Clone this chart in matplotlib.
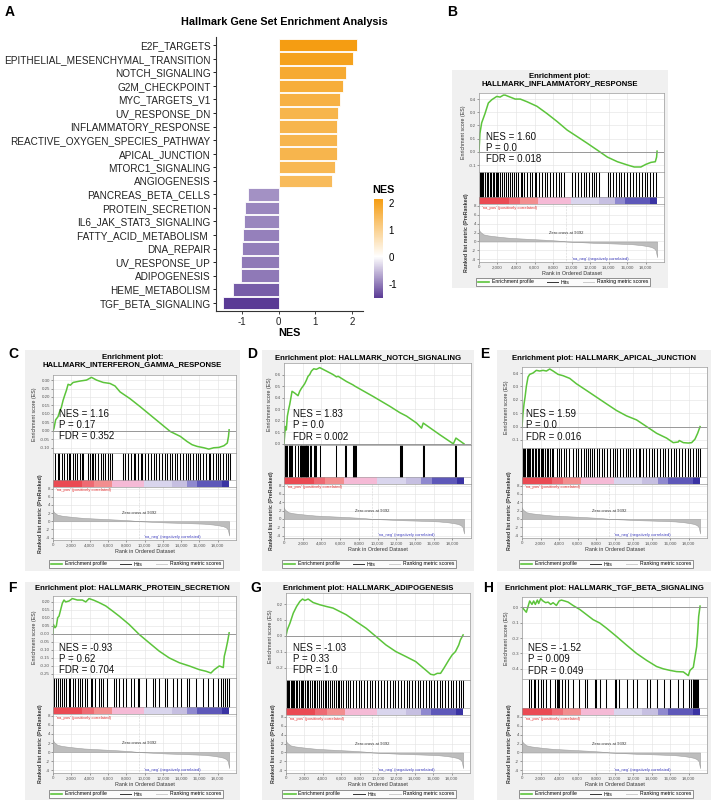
import numpy as np
import matplotlib
matplotlib.use('Agg')
import matplotlib.pyplot as plt
from matplotlib.colors import LinearSegmentedColormap, Normalize
from matplotlib.colorbar import ColorbarBase
from matplotlib.patches import Rectangle
from matplotlib.lines import Line2D
from matplotlib.ticker import FuncFormatter

plt.rcParams['font.family'] = ['Liberation Sans', 'DejaVu Sans']
plt.rcParams['axes.unicode_minus'] = False

W, H = 713, 800

# ---- panel A : NES per hallmark set
pathways = ['E2F_TARGETS', 'EPITHELIAL_MESENCHYMAL_TRANSITION', 'NOTCH_SIGNALING',
            'G2M_CHECKPOINT', 'MYC_TARGETS_V1', 'UV_RESPONSE_DN', 'INFLAMMATORY_RESPONSE',
            'REACTIVE_OXYGEN_SPECIES_PATHWAY', 'APICAL_JUNCTION', 'MTORC1_SIGNALING',
            'ANGIOGENESIS', 'PANCREAS_BETA_CELLS', 'PROTEIN_SECRETION', 'IL6_JAK_STAT3_SIGNALING',
            'FATTY_ACID_METABOLISM ', 'DNA_REPAIR', 'UV_RESPONSE_UP', 'ADIPOGENESIS',
            'HEME_METABOLISM', 'TGF_BETA_SIGNALING']
nes = [2.13, 2.02, 1.83, 1.76, 1.68, 1.61, 1.60, 1.60, 1.59, 1.54, 1.46,
       -0.85, -0.93, -0.94, -0.98, -0.99, -1.03, -1.03, -1.25, -1.52]
nes_ticks = [-1, 0, 1, 2]

# ---- shared ranked list (same dataset in every enrichment plot)
rank_pos = [0, 30, 110, 470, 1000, 1560, 2400, 3370, 5180, 6990, 8500, 9450, 11000,
            12420, 14000, 15310, 16500, 17480, 18100, 18570, 18900, 19110, 19250]
rank_val = [2.8, 2.5, 2.2, 1.6, 1.35, 1.2, 1.0, 0.8, 0.6, 0.4, 0.2, 0.0, -0.15,
            -0.3, -0.4, -0.5, -0.6, -0.8, -1.0, -1.2, -1.5, -2.0, -3.5]
zero_cross = 9392
strip_edges = [0, 3200, 4430, 6400, 9900, 13000, 14650, 15780, 18450, 19250]
strip_colors = ['#ea4a53', '#ee6a73', '#f28e8f', '#f5bad6', '#d9d5ed',
                '#c6bfe1', '#8f89cf', '#5e58b9', '#3a33a3']
rank_ticks = [0, 2000, 4000, 6000, 8000, 10000, 12000, 14000, 16000, 18000]

# ---- B : inflammatory response
inflam_rank = [0, 100, 290, 650, 1010, 1380, 1920, 2280, 2640, 2830, 3370, 3910, 4460, 5180,
               6270, 7350, 8440, 9530, 10620, 11700, 12790, 13880, 14960, 16050, 16780, 17500,
               18040, 18590, 19060, 19200, 19250]
inflam_es = [0, 0.14, 0.22, 0.29, 0.37, 0.395, 0.42, 0.415, 0.43, 0.43, 0.415, 0.40, 0.40, 0.38,
             0.345, 0.29, 0.23, 0.165, 0.115, 0.065, 0.013, -0.04, -0.075, -0.10, -0.115, -0.115,
             -0.095, -0.08, -0.075, -0.04, 0.005]
inflam_hits = [1, 2, 3, 4, 6, 7, 9, 10, 12, 13, 15, 16, 18, 20, 21, 23, 25, 27, 29, 31, 34, 36, 38,
               40, 42, 45, 47, 49, 52, 55, 57, 60, 62, 65, 68, 71, 74, 77, 80, 83, 86, 89, 92, 101,
               104, 107, 110, 113, 116, 119, 122, 124, 127, 130, 139, 142, 145, 148, 151, 153, 157,
               160, 163, 167, 170, 173, 176, 179, 182, 185, 188, 191]

# ---- C : interferon gamma response
ifng_rank = [0, 110, 290, 550, 730, 920, 1100, 1280, 1470, 1650, 1900, 2200, 2930, 3660, 4210,
             4760, 5490, 6230, 6780, 7330, 8420, 9520, 10620, 11720, 12820, 13920, 14650, 15200,
             15750, 16480, 17030, 17580, 18130, 18680, 19050, 19180, 19250]
ifng_es = [0, 0.016, 0.065, 0.084, 0.114, 0.14, 0.18, 0.21, 0.24, 0.275, 0.27, 0.286, 0.294, 0.30,
           0.316, 0.30, 0.286, 0.28, 0.265, 0.23, 0.19, 0.143, 0.094, 0.045, -0.004, -0.033,
           -0.063, -0.082, -0.092, -0.10, -0.108, -0.10, -0.098, -0.088, -0.072, -0.033, 0.006]
ifng_hits = [2, 5, 7, 10, 12, 15, 17, 19, 22, 24, 26, 29, 32, 33, 38, 40, 43, 44, 46, 49, 52, 55,
             57, 60, 62, 64, 77, 79, 82, 85, 88, 90, 93, 96, 97, 100, 104, 107, 110, 113, 116, 119,
             122, 125, 128, 130, 133, 136, 139, 142, 145, 148, 150, 153, 156, 159, 161, 164, 167,
             170, 172, 175, 178, 180, 183, 186, 189, 191, 193]

# ---- D : notch signaling
notch_rank = [0, 140, 250, 360, 500, 610, 710, 860, 1140, 1500, 1680, 1860, 2040, 2210, 2390,
              2570, 2750, 2930, 3180, 3460, 3820, 4540, 5250, 5610, 5790, 6680, 7390, 7570, 9540,
              11320, 12390, 13110, 14180, 14710, 14890, 16680, 18110, 18390, 19250]
notch_es = [0, 0.15, 0.12, 0.24, 0.30, 0.34, 0.385, 0.455, 0.44, 0.417, 0.455, 0.48, 0.50, 0.52,
            0.55, 0.585, 0.60, 0.63, 0.65, 0.645, 0.66, 0.63, 0.60, 0.58, 0.585, 0.54, 0.51, 0.50,
            0.41, 0.325, 0.27, 0.24, 0.18, 0.136, 0.18, 0.078, 0.0, 0.05, 0.0]
notch_hits = [1.4, 2.5, 3.6, 5, 6.1, 7.1, 8.6, 11.4, 15, 16.8, 17.9, 18.6, 19.6, 20.4, 21.4, 22.1,
              23.2, 23.9, 25, 25.7, 27.5, 29.3, 31.8, 32.9, 34.6, 38.2, 56, 65, 66, 73.9, 75, 75.7,
              77.5, 124, 125, 125.7, 148.2, 148.9, 149.6, 182.9, 183.6]

# ---- E : apical junction
apical_rank = [0, 110, 220, 330, 470, 650, 830, 1190, 1550, 1910, 2270, 2640, 3000, 3360, 3900,
               4440, 5160, 5880, 6970, 8050, 9130, 10220, 11300, 12380, 13470, 14550, 15630,
               16350, 16900, 17000, 17440, 17980, 18340, 18700, 18990, 19250]
apical_es = [0, 0.10, 0.17, 0.22, 0.30, 0.37, 0.39, 0.40, 0.42, 0.415, 0.42, 0.415, 0.43, 0.415,
             0.39, 0.38, 0.36, 0.32, 0.27, 0.22, 0.17, 0.12, 0.08, 0.05, 0.0, -0.05, -0.086, -0.12,
             -0.115, -0.104, -0.12, -0.123, -0.12, -0.094, -0.05, 0.0]
apical_hits = [1, 2, 3, 5, 6, 8, 9, 11, 12, 14, 15, 17, 18, 20, 22, 23, 25, 27, 28, 30, 32, 34, 38,
               40, 42, 45, 48, 51, 55, 58, 61, 64, 67, 69, 71, 74, 76, 78, 81, 83, 86, 89, 92, 95,
               98, 101, 103, 106, 109, 112, 115, 117, 120, 123, 126, 128, 131, 134, 137, 140, 143,
               146, 149, 152, 155, 158, 161, 164, 167, 170, 173, 176, 179, 182, 185, 188, 190, 192]

# ---- F : protein secretion
protsec_rank = [0, 40, 220, 365, 510, 660, 840, 1020, 1200, 1390, 1750, 2120, 2660, 3210, 3580,
                3940, 4490, 5040, 5770, 6500, 7230, 8320, 9420, 10510, 11610, 12700, 13800, 14890,
                15990, 16720, 17260, 17630, 18180, 18610, 18720, 18900, 19090, 19250]
protsec_es = [0, 0.058, 0.0375, 0.048, 0.10, 0.11, 0.15, 0.19, 0.21, 0.198, 0.204, 0.219, 0.21,
              0.21, 0.198, 0.219, 0.208, 0.194, 0.173, 0.142, 0.11, 0.058, -0.004, -0.056, -0.108,
              -0.15, -0.18, -0.20, -0.223, -0.233, -0.244, -0.223, -0.20, -0.21, -0.14, -0.098,
              -0.046, 0.006]
protsec_hits = [1, 3, 6, 8, 10, 12, 14, 17, 19, 22, 24, 27, 30, 32, 35, 37, 41, 43, 46, 50, 52, 55,
                59, 67, 69, 72, 76, 80, 85, 89, 93, 94, 102, 109, 112, 116, 122, 125, 131, 135,
                140, 146, 149, 156, 164, 169, 175, 180, 184, 186, 188, 190, 192]

# ---- G : adipogenesis
adipo_rank = [0, 140, 430, 790, 1150, 1510, 1800, 2050, 2410, 2950, 3670, 4390, 5110, 5830, 6550,
              7630, 8710, 9780, 10860, 11940, 13020, 14100, 15180, 15720, 16080, 16440, 16800,
              17160, 17700, 18060, 18420, 18780, 18960, 19250]
adipo_es = [0, 0.038, 0.08, 0.143, 0.185, 0.217, 0.232, 0.223, 0.232, 0.21, 0.196, 0.185, 0.175,
            0.154, 0.133, 0.09, 0.048, -0.004, -0.057, -0.099, -0.13, -0.162, -0.215, -0.242,
            -0.246, -0.236, -0.236, -0.204, -0.152, -0.12, -0.099, -0.057, -0.025, 0.006]
adipo_hits = [1, 2, 3, 5, 6, 8, 9, 11, 12, 14, 16, 17, 19, 21, 23, 24, 26, 28, 30, 32, 34, 36, 38,
              40, 42, 44, 46, 48, 50, 52, 54, 56, 58, 60, 62, 65, 67, 70, 73, 76, 79, 82, 85, 88,
              91, 94, 97, 100, 103, 106, 110, 113, 116, 119, 122, 125, 128, 131, 134, 137, 140,
              143, 146, 149, 152, 155, 158, 161, 164, 167, 170, 173, 176, 179, 182, 185, 188, 190,
              192]

# ---- H : TGF beta signaling
tgfb_rank = [0, 470, 830, 1080, 1260, 1440, 1660, 1800, 2020, 2270, 2560, 2820, 3100, 3360, 3720,
             4010, 4260, 4620, 4980, 5520, 6250, 6970, 7690, 8410, 9130, 10220, 11300, 12380,
             13470, 14550, 15270, 15990, 16710, 17440, 17980, 18160, 18520, 18700, 18880, 18990,
             19100, 19250]
tgfb_es = [0, -0.033, 0.04, 0.018, 0.04, 0.018, 0.046, 0.024, 0.055, 0.04, 0.029, 0.033, 0.018,
           0.029, 0.011, 0.04, 0.046, 0.04, 0.033, 0.011, -0.015, -0.048, -0.081, -0.103, -0.136,
           -0.19, -0.246, -0.30, -0.345, -0.385, -0.40, -0.41, -0.418, -0.42, -0.444, -0.41, -0.39,
           -0.323, -0.257, -0.17, -0.06, 0.007]
tgfb_hits = [8, 10, 13, 14, 17, 20, 23, 26, 30, 36, 38, 39, 40, 43, 46, 50, 55, 62, 68, 70, 79, 80,
             84, 91, 100, 102, 105, 113, 120, 124, 135, 138, 146, 153, 160, 169, 174, 181, 183,
             184.5, 185, 186, 187, 188, 189, 190]


def px_axes(fig, x0, y0, x1, y1):
    return fig.add_axes([x0 / W, 1 - y1 / H, (x1 - x0) / W, (y1 - y0) / H])


def fig_text(fig, x, y, s, **kw):
    fig.text(x / W, 1 - y / H, s, **kw)


def gsea_panel(fig, lay, title, es_rank, es_val, hits, stats, ylim, yticks, yfmt, text_xy):

    bx0, by0, bx1, by1                  = lay['box']
    x0, x1                              = lay['x']
    top, es_b, hit_b, rank_b            = lay['y']
    green                               = '#5cc43b'
    frame                               = '#9a9a9a'

    fig.patches.append(Rectangle((bx0 / W, 1 - by1 / H), (bx1 - bx0) / W, (by1 - by0) / H,
                                 transform=fig.transFigure, facecolor='#f0f0f0',
                                 edgecolor='none', zorder=-1))
    fig_text(fig, (bx0 + bx1) / 2, lay['title_y'], title, ha='center', va='center',
             fontsize=5.6, fontweight='bold', linespacing=1.05)

    xmax                                = 20000

    # enrichment score
    ax                                  = px_axes(fig, x0, top, x1, es_b)
    ax.plot(es_rank, es_val, color=green, lw=1.1)
    ax.axhline(0, color='#8a8a8a', lw=0.6)
    ax.set_xlim(0, xmax)
    ax.set_ylim(*ylim)
    ax.set_xticks(rank_ticks)
    ax.set_xticklabels([])
    ax.set_yticks(yticks)
    ax.yaxis.set_major_formatter(FuncFormatter(lambda v, p: yfmt % v))
    ax.grid(color='#e2e2e2', lw=0.4)
    ax.set_axisbelow(True)
    ax.tick_params(labelsize=3.2, length=1.2, width=0.4, pad=1, colors='#555555')
    ax.set_ylabel('Enrichment score (ES)', fontsize=3.8, labelpad=2, color='#333333')
    for s in ax.spines.values():
        s.set_color(frame)
        s.set_linewidth(0.5)
    ax.text(text_xy[0], text_xy[1], stats, transform=ax.transAxes, ha='left', va='center',
            fontsize=7, linespacing=1.15, color='#111111')

    # hits + colour strip
    strip                               = 7.0 / (hit_b - es_b)
    axh                                 = px_axes(fig, x0, es_b, x1, hit_b)
    axh.set_xlim(0, xmax)
    axh.set_ylim(0, 1)
    axh.vlines(np.array(hits) * 100, strip, 1, color='black', lw=0.75)
    for i, c in enumerate(strip_colors):
        axh.axvspan(strip_edges[i], strip_edges[i + 1], ymin=0, ymax=strip, color=c, lw=0)
    axh.axhline(strip, color=frame, lw=0.4)
    axh.set_xticks([])
    axh.set_yticks([])
    for s in axh.spines.values():
        s.set_color(frame)
        s.set_linewidth(0.5)

    # ranked list metric
    axr                                 = px_axes(fig, x0, hit_b, x1, rank_b)
    axr.fill_between(rank_pos, rank_val, 0, color='#bdbdbd', lw=0.4, edgecolor='#a0a0a0')
    axr.axvline(zero_cross, color='#b0b0b0', lw=0.4, ls=':')
    axr.set_xlim(0, xmax)
    axr.set_ylim(-4.6, 8.4)
    axr.set_yticks([-4, -2, 0, 2, 4, 6, 8])
    axr.set_xticks(rank_ticks)
    axr.xaxis.set_major_formatter(FuncFormatter(lambda v, p: f'{int(v):,}'))
    axr.grid(color='#e2e2e2', lw=0.4)
    axr.set_axisbelow(True)
    axr.tick_params(labelsize=3.2, length=1.2, width=0.4, pad=1, colors='#555555')
    axr.set_xlabel('Rank in Ordered Dataset', fontsize=3.9, labelpad=1.5, color='#333333')
    axr.set_ylabel('Ranked list metric (PreRanked)', fontsize=3.8, labelpad=2,
                   color='#333333', fontweight='bold')
    for s in axr.spines.values():
        s.set_color(frame)
        s.set_linewidth(0.5)
    axr.text(300, 7.6, "'na_pos' (positively correlated)", fontsize=3, color='#e03030',
             va='center')
    axr.text(zero_cross, 2.0, 'Zero cross at %d' % zero_cross, fontsize=3, color='#333333',
             ha='center', va='center')
    axr.text(10000, -3.9, "'na_neg' (negatively correlated)", fontsize=3, color='#4040c0',
             va='center')

    handles                             = [Line2D([], [], color=green, lw=1.2),
                                           Line2D([], [], color='#333333', lw=0.7),
                                           Line2D([], [], color='#cccccc', lw=0.7)]
    leg                                 = fig.legend(handles, ['Enrichment profile', 'Hits', 'Ranking metric scores'],
                                                     loc='center', bbox_to_anchor=((x0 + x1) / 2 / W - 0.012, 1 - lay['leg_y'] / H),
                                                     ncol=3, fontsize=3.7, frameon=True, fancybox=False,
                                                     edgecolor='#444444', handlelength=2.2, columnspacing=2.6,
                                                     borderpad=0.35, handletextpad=0.5)
    leg.get_frame().set_linewidth(0.5)


fig                                     = plt.figure(figsize=(W / 100, H / 100), dpi=100)

# ---- panel A
cmap                                    = LinearSegmentedColormap.from_list(
    'nes', [(0, '#5a3a95'), (1.53 / 3.66, '#ffffff'), (1, '#f59d12')])
norm                                    = Normalize(-1.53, 2.13)
ax                                      = px_axes(fig, 216, 37, 363, 311)
ypos                                    = np.arange(len(pathways))
ax.barh(ypos, nes, height=0.92, color=cmap(norm(np.array(nes))), edgecolor='white', linewidth=0.6)
ax.set_ylim(len(pathways) - 0.4, -0.6)
ax.set_xlim(-1.71, 2.30)
ax.set_yticks(ypos)
ax.set_yticklabels(pathways, fontsize=7.2, color='#222222')
ax.set_xticks(nes_ticks)
ax.tick_params(axis='x', labelsize=7, length=2.5, width=0.6, colors='#222222', pad=1.5)
ax.tick_params(axis='y', length=2.5, width=0.6, pad=1.5)
ax.spines['top'].set_visible(False)
ax.spines['right'].set_visible(False)
ax.spines['left'].set_color('#333333')
ax.spines['bottom'].set_color('#333333')
ax.set_xlabel('NES', fontsize=7.8, fontweight='bold', labelpad=1)
fig_text(fig, 284, 22, 'Hallmark Gene Set Enrichment Analysis', ha='center', va='center',
         fontsize=7.8, fontweight='bold')

cax                                     = px_axes(fig, 374, 199, 383, 298)
cb                                      = ColorbarBase(cax, cmap=cmap, norm=norm, ticks=nes_ticks)
cb.outline.set_visible(False)
cax.tick_params(labelsize=7, length=2, width=0.6, color='white', pad=2)
fig_text(fig, 372, 190, 'NES', ha='left', va='center', fontsize=7.8, fontweight='bold')

# ---- panels B-H
panels = [
    dict(box=(452, 70, 668, 288), x=(479, 664), y=(93, 172, 204, 262), title_y=80, leg_y=282,
         title='Enrichment plot:\nHALLMARK_INFLAMMATORY_RESPONSE', rank=inflam_rank, es=inflam_es,
         hits=inflam_hits, stats='NES = 1.60\nP = 0.0\nFDR = 0.018', ylim=(-0.153, 0.446),
         yticks=[-0.1, 0, 0.1, 0.2, 0.3, 0.4], fmt='%.1f', txt=(0.04, 0.30)),
    dict(box=(25, 350, 240, 571), x=(53, 236), y=(375, 453, 487, 540), title_y=361, leg_y=564,
         title='Enrichment plot:\nHALLMARK_INTERFERON_GAMMA_RESPONSE', rank=ifng_rank, es=ifng_es,
         hits=ifng_hits, stats='NES = 1.16\nP = 0.17\nFDR = 0.352', ylim=(-0.131, 0.33),
         yticks=list(np.arange(-0.10, 0.31, 0.05)), fmt='%.2f', txt=(0.035, 0.36)),
    dict(box=(262, 350, 474, 571), x=(284, 471), y=(363, 445, 484, 538), title_y=358, leg_y=564,
         title='Enrichment plot: HALLMARK_NOTCH_SIGNALING', rank=notch_rank, es=notch_es,
         hits=notch_hits, stats='NES = 1.83\nP = 0.0\nFDR = 0.002', ylim=(-0.01, 0.70),
         yticks=[0, 0.1, 0.2, 0.3, 0.4, 0.5, 0.6], fmt='%.1f', txt=(0.05, 0.24)),
    dict(box=(497, 350, 711, 571), x=(522, 707), y=(367, 448, 484, 538), title_y=358, leg_y=564,
         title='Enrichment plot: HALLMARK_APICAL_JUNCTION', rank=apical_rank, es=apical_es,
         hits=apical_hits, stats='NES = 1.59\nP = 0.0\nFDR = 0.016', ylim=(-0.16, 0.445),
         yticks=[-0.1, 0, 0.1, 0.2, 0.3, 0.4], fmt='%.1f', txt=(0.02, 0.28)),
    dict(box=(25, 582, 240, 800), x=(53, 236), y=(596, 678, 714, 773), title_y=589, leg_y=794,
         title='Enrichment plot: HALLMARK_PROTEIN_SECRETION', rank=protsec_rank, es=protsec_es,
         hits=protsec_hits, stats='NES = -0.93\nP = 0.62\nFDR = 0.704', ylim=(-0.275, 0.235),
         yticks=list(np.arange(-0.25, 0.21, 0.05)), fmt='%.2f', txt=(0.035, 0.23)),
    dict(box=(262, 582, 474, 800), x=(286, 470), y=(593, 680, 715, 773), title_y=589, leg_y=794,
         title='Enrichment plot: HALLMARK_ADIPOGENESIS', rank=adipo_rank, es=adipo_es,
         hits=adipo_hits, stats='NES = -1.03\nP = 0.33\nFDR = 1.0', ylim=(-0.278, 0.27),
         yticks=[-0.2, -0.1, 0, 0.1, 0.2], fmt='%.1f', txt=(0.04, 0.24)),
    dict(box=(497, 582, 711, 800), x=(522, 707), y=(597, 679, 715, 773), title_y=589, leg_y=794,
         title='Enrichment plot: HALLMARK_TGF_BETA_SIGNALING', rank=tgfb_rank, es=tgfb_es,
         hits=tgfb_hits, stats='NES = -1.52\nP = 0.009\nFDR = 0.049', ylim=(-0.466, 0.066),
         yticks=[-0.4, -0.3, -0.2, -0.1, 0.0], fmt='%.1f', txt=(0.03, 0.24)),
]

for p in panels:
    gsea_panel(fig, p, p['title'], p['rank'], p['es'], p['hits'], p['stats'],
               p['ylim'], p['yticks'], p['fmt'], p['txt'])

# panel letters
for letter, (lx, ly) in zip('ABCDEFGH', [(5, 12), (447, 12), (8, 354), (247, 354), (480, 354),
                                        (8, 588), (250, 588), (483, 588)]):
    fig_text(fig, lx, ly, letter, ha='left', va='center', fontsize=10, fontweight='bold')

fig.savefig('out.png', dpi=100)
